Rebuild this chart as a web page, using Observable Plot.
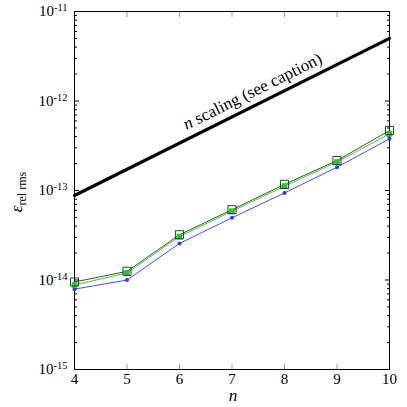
<!DOCTYPE html>
<html><head><meta charset="utf-8">
<script src="https://cdn.jsdelivr.net/npm/d3@7"></script>
<script src="https://cdn.jsdelivr.net/npm/@observablehq/plot@0.6"></script>
</head><body style="margin:0;background:#fff">
<div id="chart"></div>
<script>
const nVals = [4, 5, 6, 7, 8, 9, 10];
const blackVals = [9.5e-15, 1.25e-14, 3.2e-14, 6.1e-14, 1.17e-13, 2.16e-13, 4.68e-13];
const greenVals = [8.8e-15, 1.2e-14, 3.06e-14, 5.87e-14, 1.12e-13, 2.08e-13, 4.3e-13];
const blueVals = [7.9e-15, 1.0e-14, 2.56e-14, 4.95e-14, 9.4e-14, 1.82e-13, 3.78e-13];
const scalingN = [4, 10];
const scalingVals = [8.8e-14, 5e-12];
const scalingLabel = "n scaling (see caption)";
const xTicks = [4, 5, 6, 7, 8, 9, 10];
const yMajor = [1e-15, 1e-14, 1e-13, 1e-12, 1e-11];
const yExponents = ["-15", "-14", "-13", "-12", "-11"];
const yMinor = [];
for (let e = -15; e < -11; e++) for (let m = 2; m <= 9; m++) yMinor.push(m * Math.pow(10, e));

const mk = vals => nVals.map((n, i) => ({n, v: vals[i]}));
const black = mk(blackVals), green = mk(greenVals), blue = mk(blueVals);
const scaling = scalingN.map((n, i) => ({n, v: scalingVals[i]}));

const FONT = "Liberation Serif";
const blank = () => "";
const plot = Plot.plot({
  width: 407, height: 407,
  marginLeft: 74, marginRight: 18, marginTop: 11, marginBottom: 38,
  x: {domain: [4, 10]},
  y: {type: "log", domain: [1e-15, 1e-11]},
  style: {fontFamily: FONT, fontSize: "15px"},
  marks: [
    Plot.axisY({anchor: "left", ticks: yMajor, tickSize: -5, tickPadding: 12, tickFormat: () => "10", label: null, fontSize: 15}),
    Plot.axisX({anchor: "bottom", ticks: xTicks, tickSize: -5, tickPadding: 9, stroke: "#999", tickFormat: d => String(d), label: null, fontSize: 15, fill: "#000"}),
    Plot.axisX({anchor: "top", ticks: xTicks, tickSize: -5, stroke: "#999", tickFormat: blank, label: null}),
    Plot.axisY({anchor: "left", ticks: yMinor, tickSize: -3, tickFormat: blank, label: null}),
    Plot.axisY({anchor: "right", ticks: yMajor, tickSize: -5, tickFormat: blank, label: null}),
    Plot.axisY({anchor: "right", ticks: yMinor, tickSize: -3, tickFormat: blank, label: null}),
    Plot.frame({stroke: "#000", strokeWidth: 1}),
    Plot.line(scaling, {x: "n", y: "v", stroke: "#000", strokeWidth: 3.2}),
    Plot.text([scalingLabel], {x: [7.39], y: [1.28e-12], text: d => d, rotate: -26.3, fontSize: 17, fill: "#000"}),
    Plot.line(blue, {x: "n", y: "v", stroke: "#3333ff", strokeWidth: 0.9}),
    Plot.dot(blue, {x: "n", y: "v", fill: "#3333ff", r: 2}),
    Plot.line(green, {x: "n", y: "v", stroke: "#22dd22", strokeWidth: 1}),
    Plot.line(black, {x: "n", y: "v", stroke: "#333", strokeWidth: 0.9}),
    Plot.dot(green, {x: "n", y: "v", symbol: "square", fill: "#22cc22", stroke: "none", r: 3.2}),
    Plot.dot(black, {x: "n", y: "v", symbol: "square", fill: "none", stroke: "#222", strokeWidth: 0.9, r: 4.6})
  ]
});
document.getElementById("chart").appendChild(plot);

const svg = d3.select(plot);
svg.select("g[aria-label='y-axis tick label']").selectAll("text").each(function(d, i) {
  const t = d3.select(this);
  t.text("10");
  t.append("tspan").attr("dy", "-0.5em").attr("font-size", "10.5px").text(yExponents[i]);
});
svg.selectAll("g[aria-label='text'] text").each(function() {
  const t = d3.select(this);
  const s = t.text();
  if (s.startsWith("n ")) {
    t.text("");
    t.append("tspan").attr("font-style", "italic").text("n");
    t.append("tspan").text(s.slice(1));
  }
});
svg.append("text").attr("x", 233).attr("y", 401).attr("text-anchor", "middle")
  .attr("font-style", "italic").attr("font-size", 17).text("n");
const yl = svg.append("text").attr("transform", "translate(22,192) rotate(-90)")
  .attr("text-anchor", "middle").attr("font-size", 17);
yl.append("tspan").attr("font-style", "italic").text("ε");
yl.append("tspan").attr("dy", "0.3em").attr("font-size", 12).text("rel rms");
const spacer = document.createElement("div");
spacer.style.height = "0";
document.body.appendChild(spacer);
</script>
</body></html>
